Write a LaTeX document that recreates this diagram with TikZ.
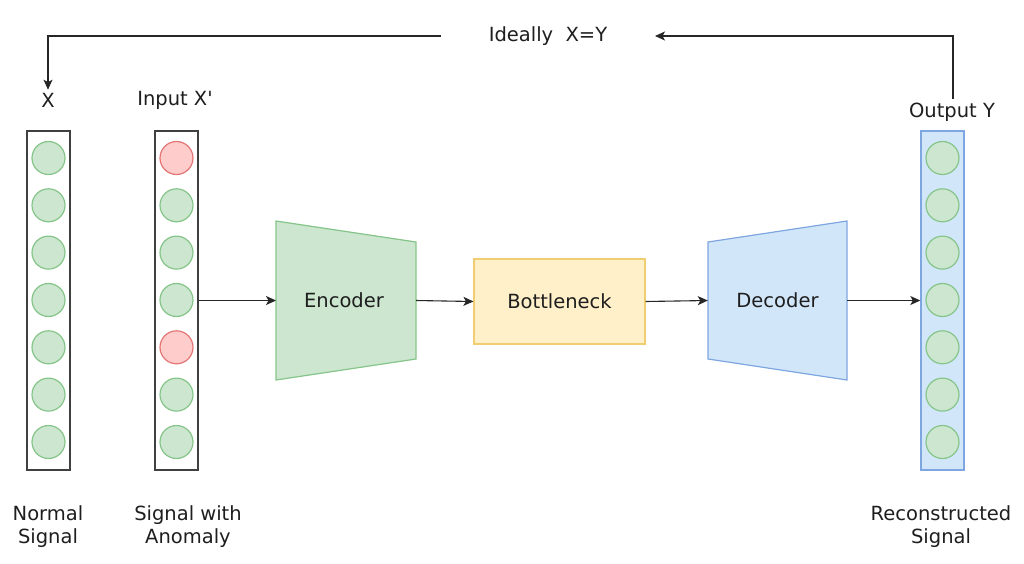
\documentclass[tikz,border=0pt]{standalone}
\usepackage{fontspec}
\setmainfont{DejaVu Sans}[Ligatures=TeXOff]
\usetikzlibrary{arrows.meta}
\definecolor{gfill}{HTML}{CCE6CF}
\definecolor{gline}{HTML}{86C589}
\definecolor{rfill}{HTML}{FFCCCC}
\definecolor{rline}{HTML}{E47575}
\definecolor{yfill}{HTML}{FFF0C9}
\definecolor{yline}{HTML}{F0CD70}
\definecolor{bfill}{HTML}{D2E6FA}
\definecolor{bline}{HTML}{7EA6E0}
\definecolor{txt}{HTML}{1E1E1E}
\begin{document}
\begin{tikzpicture}[x=1pt,y=-1pt,
  every node/.style={text=txt,font=\fontsize{19.5}{23}\selectfont},
  col/.style={draw=black!75,line width=1.4pt,minimum width=43pt,minimum height=339pt,inner sep=0pt},
  gcirc/.style={circle,draw=gline,fill=gfill,line width=1.2pt,minimum size=33pt,inner sep=0pt},
  rcirc/.style={circle,draw=rline,fill=rfill,line width=1.2pt,minimum size=33pt,inner sep=0pt},
  lbl/.style={align=center,inner sep=0pt},
  hid/.style={inner sep=0pt},
  conn/.style={draw=black!85,line width=1.1pt,-{Stealth[length=10pt,width=9pt,inset=2.5pt]}}]
\useasboundingbox (0,0) rectangle (1024,563);
% columns
\node[col] (colx) at (48.5,300.5) {};
\node[col] (colin) at (176.5,300.5) {};
\node[col,draw=bline,fill=bfill] (colout) at (942.5,300.5) {};
\foreach \i/\y in {1/158,2/205.3,3/252.6,4/300,5/347.3,6/394.6,7/442}{
  \node[gcirc] (x\i) at (48.5,\y) {};
  \node[gcirc] (o\i) at (942.5,\y) {};
}
\foreach \i/\y in {2/205.3,3/252.6,4/300,6/394.6,7/442}{
  \node[gcirc] (in\i) at (176.5,\y) {};
}
\node[rcirc] (in1) at (176.5,158) {};
\node[rcirc] (in5) at (176.5,347.3) {};
% encoder / decoder trapezoids
\filldraw[draw=gline,fill=gfill,line width=1.2pt] (276,221) -- (416,242) -- (416,359) -- (276,380) -- cycle;
\node[hid,minimum width=140pt,minimum height=159pt] (enc) at (344,300.5) {Encoder};
\filldraw[draw=bline,fill=bfill,line width=1.2pt] (708,242) -- (847,221) -- (847,380) -- (708,359) -- cycle;
\node[hid,minimum width=139pt,minimum height=159pt] (dec) at (777.5,300.5) {Decoder};
\node[draw=yline,fill=yfill,line width=1.2pt,minimum width=171pt,minimum height=85pt,inner sep=0pt] (bot) at (559.5,301.5) {Bottleneck};
% labels
\node[lbl] (lx) at (48,100) {X};
\node[lbl] (lin) at (175,100) {Input X'};
\node[lbl] (lout) at (952,112) {Output Y};
\node[lbl] (ideal) at (548,36) {Ideally\ \ X=Y};
\node[lbl] (ln) at (48,526.5) {Normal\\Signal};
\node[lbl] (la) at (188,526.5) {Signal with\\Anomaly};
\node[lbl] (lr) at (941,526.5) {Reconstructed\\Signal};
% connectors
\draw[conn] (colin.east |- enc.west) -- ([xshift=-68pt]enc.center);
\draw[conn] ([xshift=72pt]enc.center) -- (bot.west);
\draw[conn] (bot.east) -- (dec.west);
\draw[conn] (dec.east) -- (colout.west |- dec.east);
\coordinate (tl) at (48,36);
\coordinate (tr) at (953,36);
\coordinate (ls) at (441,36);
\coordinate (re) at (655,36);
\coordinate (rs) at (953,99);
\draw[conn] (ls) -- (tl) -- ([yshift=3pt]lx.north);
\draw[conn] (rs) -- (tr) -- (re);
\end{tikzpicture}
\end{document}
